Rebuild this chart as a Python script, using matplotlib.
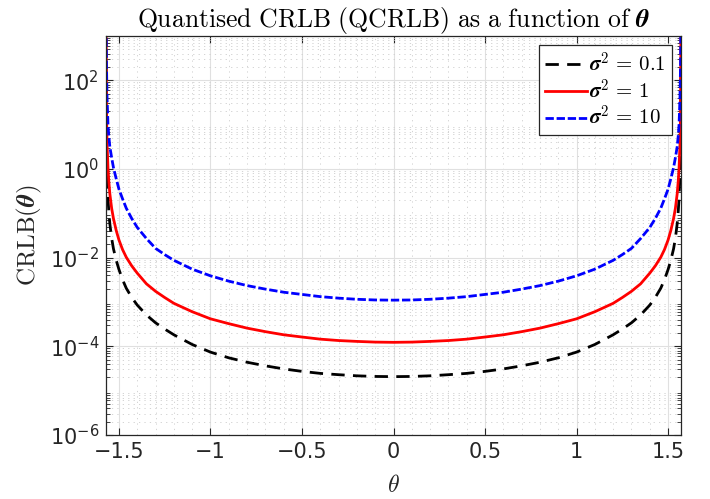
import numpy as np
import matplotlib
matplotlib.use('Agg')
import matplotlib.pyplot as plt
from matplotlib.ticker import MultipleLocator, LogLocator, NullFormatter

# theta >= 0 half of the curves (the plot is symmetric about theta = 0)
theta_half = [0.0, 0.1, 0.2, 0.3, 0.4, 0.5, 0.6, 0.7, 0.8, 0.9, 1.0, 1.1, 1.2,
              1.25, 1.3, 1.35, 1.4, 1.43, 1.46, 1.48, 1.5, 1.515, 1.53, 1.54,
              1.55, 1.556, 1.56, 1.565, 1.568, 1.5703]

crlb_s01 = [2.07e-5, 2.09e-5, 2.16e-5, 2.29e-5, 2.45e-5, 2.72e-5, 3.09e-5, 3.63e-5,
            4.37e-5, 5.5e-5, 7.4e-5, 1.1e-4, 1.82e-4,
            2.45e-4, 3.39e-4, 5.1e-4, 8.5e-4, 1.26e-3, 2.04e-3, 3.16e-3, 5.4e-3,
            8.7e-3, 1.58e-2, 2.75e-2,
            5.9e-2, 0.117, 0.22, 0.76, 3.3, 200.0]
crlb_s1 = [1.23e-4, 1.245e-4, 1.29e-4, 1.35e-4, 1.45e-4, 1.62e-4, 1.82e-4, 2.14e-4,
           2.57e-4, 3.24e-4, 4.17e-4, 6.03e-4, 9.33e-4,
           1.26e-3, 1.74e-3, 2.57e-3, 4.47e-3, 6.5e-3, 1.02e-2, 1.51e-2, 2.5e-2,
           4.1e-2, 7.6e-2, 0.13,
           0.28, 0.56, 1.05, 3.6, 16.0, 1600.0]
crlb_s10 = [1.1e-3, 1.11e-3, 1.15e-3, 1.22e-3, 1.32e-3, 1.48e-3, 1.66e-3, 1.95e-3,
            2.34e-3, 2.95e-3, 3.89e-3, 5.5e-3, 8.7e-3,
            1.17e-2, 1.62e-2, 2.7e-2, 4.8e-2, 7.6e-2, 0.13, 0.21, 0.35,
            0.6, 1.07, 1.8,
            3.2, 5.8, 10.0, 40.0, 200.0, 5000.0]

labels = [r'$\boldsymbol{\sigma}^2\,=\,0.1$', r'$\boldsymbol{\sigma}^2\,=\,1$',
          r'$\boldsymbol{\sigma}^2\,=\,10$']

theta = np.array([-t for t in theta_half[::-1]] + theta_half[1:])


def full(half):
    return np.array(half[::-1] + half[1:])


fig = plt.figure(figsize=(7.1, 4.99), dpi=100)
ax = fig.add_axes([0.1493, 0.1283, 0.8099, 0.7996])

ax.semilogy(theta, full(crlb_s01), color='black', lw=2.0, dashes=(4.8, 3.0),
            label=labels[0])
ax.semilogy(theta, full(crlb_s1), color='#ff0000', lw=2.0, label=labels[1])
ax.semilogy(theta, full(crlb_s10), color='#0000ff', lw=2.0, dashes=(3.0, 1.0),
            label=labels[2])

ax.set_xlim(-np.pi / 2, np.pi / 2)
ax.set_ylim(1e-6, 1e3)

ax.xaxis.set_minor_locator(MultipleLocator(0.1))
ax.set_yticks([1e-6, 1e-4, 1e-2, 1e0, 1e2])
ax.yaxis.set_minor_locator(LogLocator(base=10, subs=np.arange(2, 10), numticks=20))
ax.yaxis.set_minor_formatter(NullFormatter())
ax.set_xticks([-1.5, -1, -0.5, 0, 0.5, 1, 1.5])
ax.set_xticklabels(['\u22121.5', '\u22121', '\u22120.5', '0', '0.5', '1', '1.5'])

ax.grid(which='major', color='#e0e0e0', lw=0.8, ls='-')
ax.grid(which='minor', color='#cdcdcd', lw=0.6, ls=(0, (1.5, 5)))
ax.set_axisbelow(True)

ax.tick_params(which='both', direction='in', top=True, right=True,
               labelsize=15, colors='#262626')
ax.tick_params(which='major', length=5, pad=5)
ax.tick_params(axis='x', which='minor', length=0)
ax.tick_params(axis='y', which='minor', length=3)
for s in ax.spines.values():
    s.set_color('#262626')
    s.set_linewidth(0.9)

ax.set_title(r'$\mathrm{Quantised\ CRLB\ (QCRLB)\ as\ a\ function\ of\ }\boldsymbol{\theta}$',
             fontsize=18.5, math_fontfamily='cm', pad=5)
ax.set_ylabel(r'$\mathrm{CRLB}(\boldsymbol{\theta})$', fontsize=18, math_fontfamily='cm',
              color='#262626', labelpad=4)
ax.set_xlabel(r'$\theta$', fontsize=17, math_fontfamily='cm', color='#262626', labelpad=8)

leg = ax.legend(loc='upper right', prop={'size': 15, 'math_fontfamily': 'cm'},
                fancybox=False, framealpha=1, edgecolor='#262626',
                borderaxespad=0.45, handlelength=2.0, handletextpad=0.1,
                labelspacing=0.12, borderpad=0.3)
leg.get_frame().set_linewidth(0.9)

plt.savefig('out.png', dpi=100)
